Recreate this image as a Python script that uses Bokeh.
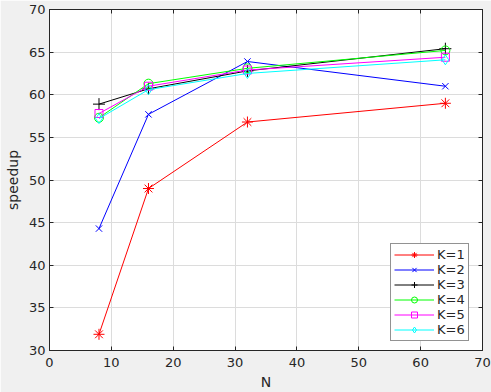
from bokeh.plotting import figure
from bokeh.models import LinearAxis, FixedTicker, Range1d, Legend, CustomJSTickFormatter
from bokeh.embed import file_html
from bokeh.resources import INLINE

N = [8, 16, 32, 64]
k1 = [31.9, 49.0, 56.8, 59.0]
k2 = [44.3, 57.7, 63.9, 61.0]
k3 = [58.9, 60.7, 62.8, 65.4]
k4 = [57.3, 61.3, 63.1, 65.2]
k5 = [57.8, 61.0, 62.9, 64.4]
k6 = [57.2, 60.6, 62.5, 64.1]
labels = ["K=1", "K=2", "K=3", "K=4", "K=5", "K=6"]
colors = ["#ff0000", "#0000ff", "#000000", "#00ff00", "#ff00ff", "#00ffff"]
markers = ["asterisk", "x", "cross", "circle", "square", "diamond"]
sizes = [11, 9, 12, 9, 8, 10]
x_ticks = [0, 10, 20, 30, 40, 50, 60, 70]
y_ticks = [30, 35, 40, 45, 50, 55, 60, 65, 70]

FONT = "DejaVu Sans"
TXT = "#262626"

p = figure(width=491, height=392, output_backend="svg", toolbar_location=None,
           x_range=Range1d(0, 70), y_range=Range1d(30, 70),
           min_border_left=49, min_border_right=9, min_border_top=9, min_border_bottom=41,
           background_fill_color="white", border_fill_color="#f0f0f0",
           outline_line_color=TXT, x_axis_label="N", y_axis_label="speedup")

for ax in [p.xaxis[0], p.yaxis[0]]:
    ax.major_tick_in = 4
    ax.major_tick_out = 0
    ax.minor_tick_line_color = None
    ax.axis_line_color = TXT
    ax.major_tick_line_color = TXT
    ax.major_label_text_font = FONT
    ax.major_label_text_font_size = "13px"
    ax.major_label_text_color = TXT
    ax.axis_label_text_font = FONT
    ax.axis_label_text_font_size = "14px"
    ax.axis_label_text_font_style = "normal"
    ax.axis_label_text_color = TXT
p.xaxis[0].ticker = FixedTicker(ticks=x_ticks)
p.yaxis[0].ticker = FixedTicker(ticks=y_ticks)
p.xaxis[0].major_label_standoff = 7
p.xaxis[0].axis_label_standoff = 4
p.yaxis[0].major_label_standoff = 4
p.yaxis[0].axis_label_standoff = 5

for loc, tick in [("above", x_ticks), ("right", y_ticks)]:
    a = LinearAxis(ticker=FixedTicker(ticks=tick), major_tick_in=4, major_tick_out=0,
                   minor_tick_line_color=None, axis_line_color=TXT, major_tick_line_color=TXT,
                   formatter=CustomJSTickFormatter(code="return ''"),
                   major_label_standoff=0)
    p.add_layout(a, loc)

p.grid.grid_line_color = "#dcdcdc"
p.xgrid.ticker = FixedTicker(ticks=x_ticks)
p.ygrid.ticker = FixedTicker(ticks=y_ticks)

series = [k1, k2, k3, k4, k5, k6]
items = []
for ys, lab, c, m, s in zip(series, labels, colors, markers, sizes):
    r1 = p.line(N, ys, line_color=c, line_width=1)
    r2 = p.scatter(N, ys, marker=m, size=s, line_color=c, fill_color=None, line_width=1)
    items.append((lab, [r1, r2]))

leg = Legend(items=items, location=(341, 9), glyph_width=40, glyph_height=15,
             label_height=15, spacing=-1, padding=3, margin=0, label_standoff=3,
             label_text_font=FONT, label_text_font_size="13px", label_text_color=TXT,
             border_line_color=TXT, background_fill_color="white", background_fill_alpha=1)
p.add_layout(leg, "center")

html = file_html(p, INLINE)
html = html.replace("<body>", '<body style="margin:0;background:#f0f0f0">', 1)
open("out.html", "w").write(html)
